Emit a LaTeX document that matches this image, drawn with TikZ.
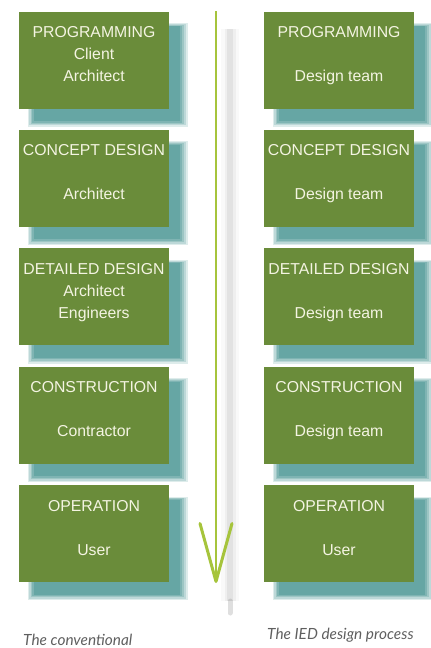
\documentclass[tikz,border=0pt]{standalone}
\usepackage{fontspec}
\setmainfont{Liberation Sans}
\newfontfamily\capfont{Lato}
\usetikzlibrary{positioning,shadows,arrows.meta}

\definecolor{phasegreen}{RGB}{106,140,58}
\definecolor{phaseshadow}{RGB}{72,148,146}
\definecolor{phaseink}{RGB}{244,244,226}
\definecolor{flowgreen}{RGB}{166,196,60}
\definecolor{capgray}{RGB}{95,95,95}

\begin{document}
\begin{tikzpicture}[x=1pt, y=-1pt,
    phase/.style={rectangle, fill=phasegreen, minimum width=150pt, minimum height=97pt, inner sep=0pt,
      general shadow={fill=phaseshadow, opacity=.18, shadow xshift=13pt, shadow yshift=-14pt, shadow scale=1.07},
      general shadow={fill=phaseshadow, opacity=.22, shadow xshift=13pt, shadow yshift=-14pt, shadow scale=1.045},
      general shadow={fill=phaseshadow, opacity=.28, shadow xshift=13pt, shadow yshift=-14pt, shadow scale=1.02},
      general shadow={fill=phaseshadow, opacity=.35, shadow xshift=13pt, shadow yshift=-14pt, shadow scale=1.0},
      general shadow={fill=phaseshadow, opacity=.45, shadow xshift=13pt, shadow yshift=-14pt, shadow scale=0.975}},
    phasetext/.style={text=phaseink, font=\fontsize{15.8}{22}\selectfont, align=center, inner sep=0pt},
    caption/.style={text=capgray, font=\capfont\itshape\fontsize{15.4}{18}\selectfont, inner sep=0pt, anchor=base west}]

    \useasboundingbox (0,0) rectangle (431,648);

    % process direction (shadow first)
    \coordinate (flow-top) at (216,11);
    \coordinate (flow-end) at (216,583);
    \draw[gray, line width=18pt, opacity=.05] ([shift={(14pt,-18pt)}]flow-top) -- ([shift={(14pt,-18pt)}]flow-end);
    \draw[gray, line width=11pt, opacity=.08] ([shift={(14pt,-18pt)}]flow-top) -- ([shift={(14pt,-18pt)}]flow-end);
    \draw[gray, line width=6pt, opacity=.12] ([shift={(14pt,-18pt)}]flow-top) -- ([shift={(14pt,-18pt)}]flow-end);
    \draw[gray, line width=5pt, line cap=round, opacity=.25] ([shift={(14pt,-30pt)}]flow-end) -- ([shift={(14pt,-18pt)}]flow-end);
    \draw[flowgreen, line width=2.5pt, -{Straight Barb[length=58pt, width=32pt, line width=3pt, round]}] (flow-top) -- (flow-end);

    % conventional process
    \node[phase] (prog-c) at (94,60) {};
    \node[phase, below=21pt of prog-c] (concept-c) {};
    \node[phase, below=21pt of concept-c] (detail-c) {};
    \node[phase, below=21pt of detail-c] (constr-c) {};
    \node[phase, below=21pt of constr-c] (oper-c) {};

    % IED process
    \node[phase] (prog-i) at (339,60) {};
    \node[phase, below=21pt of prog-i] (concept-i) {};
    \node[phase, below=21pt of concept-i] (detail-i) {};
    \node[phase, below=21pt of detail-i] (constr-i) {};
    \node[phase, below=21pt of constr-i] (oper-i) {};

    % phase texts
    \node[phasetext, below=15pt of prog-c.north] (prog-c-txt) {PROGRAMMING\\Client\\Architect};
    \node[phasetext, below=15pt of concept-c.north] (concept-c-txt) {CONCEPT DESIGN\\[22pt]Architect};
    \node[phasetext, below=15pt of detail-c.north] (detail-c-txt) {DETAILED DESIGN\\Architect\\Engineers};
    \node[phasetext, below=15pt of constr-c.north] (constr-c-txt) {CONSTRUCTION\\[22pt]Contractor};
    \node[phasetext, below=15pt of oper-c.north] (oper-c-txt) {OPERATION\\[22pt]User};

    \node[phasetext, below=15pt of prog-i.north] (prog-i-txt) {PROGRAMMING\\[22pt]Design team};
    \node[phasetext, below=15pt of concept-i.north] (concept-i-txt) {CONCEPT DESIGN\\[22pt]Design team};
    \node[phasetext, below=15pt of detail-i.north] (detail-i-txt) {DETAILED DESIGN\\[22pt]Design team};
    \node[phasetext, below=15pt of constr-i.north] (constr-i-txt) {CONSTRUCTION\\[22pt]Design team};
    \node[phasetext, below=15pt of oper-i.north] (oper-i-txt) {OPERATION\\[22pt]User};

    % captions
    \node[caption] (conv-cap) at (23,645) {The conventional};
    \node[caption] (ied-cap) at (267,639) {The IED design process};
\end{tikzpicture}
\end{document}
